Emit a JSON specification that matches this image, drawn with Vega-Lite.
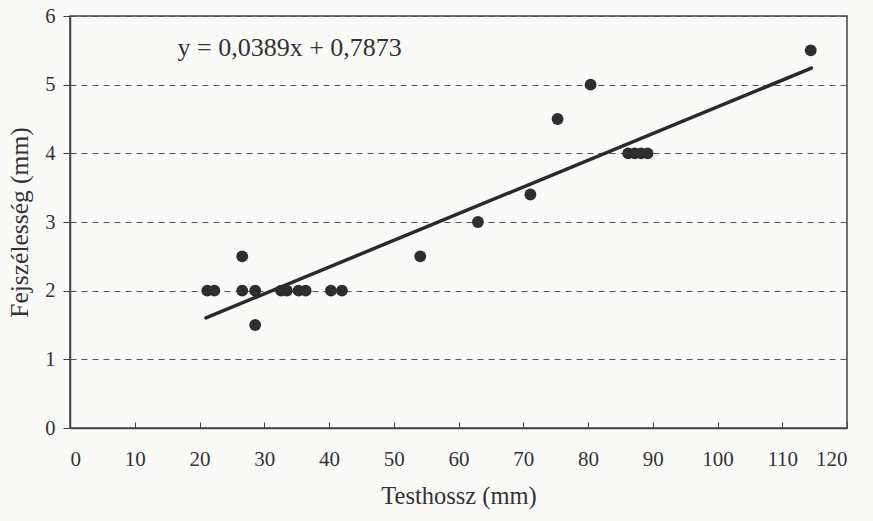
{
  "$schema": "https://vega.github.io/schema/vega-lite/v6.json",
  "width": 777,
  "height": 412,
  "autosize": "none",
  "padding": {"left": 70, "top": 16, "right": 26, "bottom": 93},
  "background": "#fafaf8",
  "config": {
    "font": "Liberation Serif",
    "view": {"stroke": "#444", "strokeWidth": 1.5},
    "axis": {
      "titleFontWeight": "normal",
      "labelColor": "#333",
      "titleColor": "#333",
      "domainColor": "#444",
      "tickColor": "#444",
      "domainWidth": 1.5
    }
  },
  "datasets": {
    "pts": [
      {"x": 21.2, "y": 2}, {"x": 22.3, "y": 2},
      {"x": 26.6, "y": 2.5}, {"x": 26.6, "y": 2},
      {"x": 28.6, "y": 2}, {"x": 28.6, "y": 1.5},
      {"x": 32.6, "y": 2}, {"x": 33.5, "y": 2},
      {"x": 35.3, "y": 2}, {"x": 36.4, "y": 2},
      {"x": 40.3, "y": 2}, {"x": 42.0, "y": 2},
      {"x": 54.1, "y": 2.5}, {"x": 63.0, "y": 3},
      {"x": 71.1, "y": 3.4}, {"x": 75.3, "y": 4.5},
      {"x": 80.4, "y": 5}, {"x": 86.2, "y": 4},
      {"x": 87.2, "y": 4}, {"x": 88.2, "y": 4},
      {"x": 89.2, "y": 4}, {"x": 114.4, "y": 5.5}
    ],
    "fit": [
      {"x": 21.0, "y": 1.604}, {"x": 114.5, "y": 5.241}
    ],
    "label": [
      {"x": 16.6, "y": 5.53, "t": "y = 0,0389x + 0,7873"}
    ]
  },
  "layer": [
    {
      "data": {"name": "pts"},
      "mark": {"type": "point", "filled": true, "size": 140, "color": "#2e2e2e", "opacity": 1},
      "encoding": {
        "x": {
          "field": "x", "type": "quantitative",
          "scale": {"domain": [0, 120], "nice": false, "zero": true},
          "axis": {
            "title": "Testhossz (mm)",
            "titleFont": "Liberation Serif",
            "titleFontSize": 24.5,
            "labelFont": "Liberation Serif",
            "labelFontSize": 21,
            "labelOverlap": false,
            "format": "d",
            "values": [0,10,20,30,40,50,60,70,80,90,100,110,120],
            "grid": false,
            "tickSize": -6,
            "labelPadding": 26,
            "titlePadding": 15
          }
        },
        "y": {
          "field": "y", "type": "quantitative",
          "scale": {"domain": [0, 6], "nice": false},
          "axis": {
            "title": "Fejszélesség (mm)",
            "titleFont": "Liberation Serif",
            "titleFontSize": 25.5,
            "labelFont": "Liberation Serif",
            "labelFontSize": 20.5,
            "format": "d",
            "values": [0,1,2,3,4,5,6],
            "grid": true,
            "gridDash": [6, 5],
            "gridColor": "#555",
            "gridWidth": 1,
            "tickSize": 7,
            "labelPadding": 8,
            "titlePadding": 12
          }
        }
      }
    },
    {
      "data": {"name": "fit"},
      "mark": {"type": "line", "color": "#2a2a2a", "strokeWidth": 3.5, "strokeCap": "round"},
      "encoding": {
        "x": {"field": "x", "type": "quantitative"},
        "y": {"field": "y", "type": "quantitative"}
      }
    },
    {
      "data": {"name": "label"},
      "mark": {"type": "text", "align": "left", "baseline": "middle", "fontSize": 26, "font": "Liberation Serif", "color": "#333"},
      "encoding": {
        "x": {"field": "x", "type": "quantitative"},
        "y": {"field": "y", "type": "quantitative"},
        "text": {"field": "t"}
      }
    }
  ]
}
